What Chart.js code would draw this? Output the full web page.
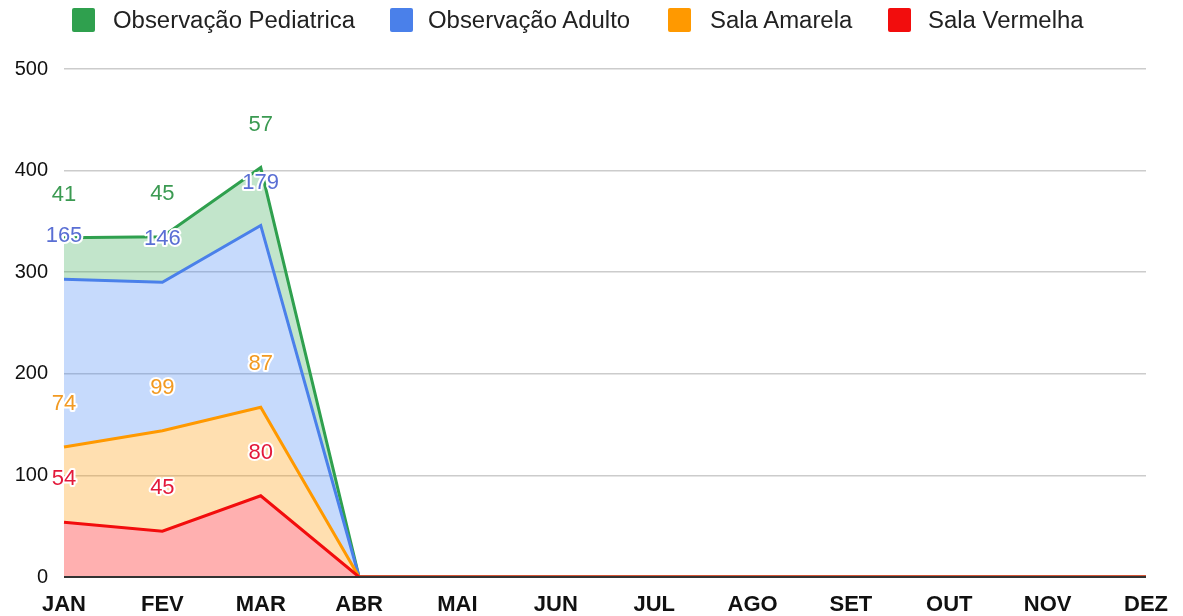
<!DOCTYPE html>
<html>
<head>
<meta charset="utf-8">
<script src="https://cdn.jsdelivr.net/npm/chart.js@4"></script>
<style>
    body { margin: 0; background: #fff; font-family: "Liberation Sans", Arial, sans-serif; }
    #wrap { position: relative; width: 1183px; height: 616px; }
    #legenda { position: absolute; top: 0; left: 0; width: 1183px; height: 40px; }
    .kotak { position: absolute; top: 8px; width: 23px; height: 24px; border-radius: 2px; }
    .teks { position: absolute; top: 6px; font-size: 23px; line-height: 28px; color: #222; white-space: nowrap; transform-origin: 0 50%; transform: scaleX(1.04); }
</style>
</head>
<body>
<div id="wrap">
    <canvas id="grafik"></canvas>
    <div id="legenda"></div>
</div>
<script>
// Data
const meses = ['JAN', 'FEV', 'MAR', 'ABR', 'MAI', 'JUN', 'JUL', 'AGO', 'SET', 'OUT', 'NOV', 'DEZ'];
const salaVermelha = [54, 45, 80, 0, 0, 0, 0, 0, 0, 0, 0, 0];
const salaAmarela = [74, 99, 87, 0, 0, 0, 0, 0, 0, 0, 0, 0];
const obsAdulto = [165, 146, 179, 0, 0, 0, 0, 0, 0, 0, 0, 0];
const obsPediatrica = [41, 45, 57, 0, 0, 0, 0, 0, 0, 0, 0, 0];
const ticksY = [0, 100, 200, 300, 400, 500];

const fonte = '"Liberation Sans", Arial, sans-serif';

function serie(label, values, cor, fundo, corTexto, fill) {
    return {
        label: label,
        data: values,
        borderColor: cor,
        backgroundColor: fundo,
        borderWidth: 3,
        pointRadius: 0,
        tension: 0,
        fill: fill,
        corTexto: corTexto
    };
}

const datasets = [
    serie('Sala Vermelha', salaVermelha, '#f20d0d', 'rgba(255,0,0,0.31)', '#e3193a', 'origin'),
    serie('Sala Amarela', salaAmarela, '#ff9900', 'rgba(255,153,0,0.31)', '#f29a22', '-1'),
    serie('Observação Adulto', obsAdulto, '#4a80ea', 'rgba(66,133,244,0.3)', '#5a6fd4', '-1'),
    serie('Observação Pediatrica', obsPediatrica, '#2fa04e', 'rgba(52,168,83,0.3)', '#3b9a52', '-1')
];

// Legenda (ordem invertida, igual à referência)
const posKotak = [72, 390, 668, 888];
const posTeks = [113, 428, 710, 928];
const legenda = document.getElementById('legenda');
datasets.slice().reverse().forEach(function (ds, i) {
    const kotak = document.createElement('div');
    kotak.className = 'kotak';
    kotak.style.left = posKotak[i] + 'px';
    kotak.style.background = ds.borderColor;
    const teks = document.createElement('span');
    teks.className = 'teks';
    teks.style.left = posTeks[i] + 'px';
    teks.textContent = ds.label;
    legenda.appendChild(kotak);
    legenda.appendChild(teks);
});

// Rótulos de valores + linha do eixo por cima
const rotulos = {
    id: 'rotulos',
    afterDatasetsDraw(chart) {
        const ctx = chart.ctx;
        const area = chart.chartArea;
        ctx.save();
        ctx.strokeStyle = '#333';
        ctx.lineWidth = 2;
        ctx.beginPath();
        ctx.moveTo(area.left, area.bottom);
        ctx.lineTo(area.right, area.bottom);
        ctx.stroke();

        ctx.font = '22px ' + fonte;
        ctx.textAlign = 'center';
        ctx.textBaseline = 'middle';
        ctx.lineJoin = 'round';
        chart.data.datasets.forEach(function (ds, i) {
            const meta = chart.getDatasetMeta(i);
            meta.data.forEach(function (pt, j) {
                const v = ds.data[j];
                if (!v) return;
                const y = pt.y - 43;
                ctx.strokeStyle = '#fff';
                ctx.lineWidth = 4;
                ctx.strokeText(v, pt.x, y);
                ctx.fillStyle = ds.corTexto;
                ctx.fillText(v, pt.x, y);
            });
        });
        ctx.restore();
    }
};

const config = {
    type: 'line',
    data: { labels: meses, datasets: datasets },
    options: {
        responsive: true,
        maintainAspectRatio: false,
        animation: false,
        layout: { padding: { top: 69, right: 37, left: 0, bottom: 0 } },
        plugins: { legend: { display: false }, tooltip: { enabled: false } },
        scales: {
            x: {
                offset: false,
                grid: { display: false },
                border: { display: false },
                ticks: {
                    autoSkip: false, maxRotation: 0, padding: 7,
                    color: '#111', font: { family: fonte, size: 22, weight: 'bold' }
                },
                afterFit(scale) { scale.height = 39; }
            },
            y: {
                stacked: true,
                min: 0, max: 500,
                afterBuildTicks(scale) { scale.ticks = ticksY.map(v => ({ value: v })); },
                grid: { color: '#cccccc', lineWidth: 1.5, drawTicks: false },
                border: { display: false },
                ticks: {
                    padding: 16, color: '#111',
                    font: { family: fonte, size: 20 }
                },
                afterFit(scale) { scale.width = 64; }
            }
        }
    },
    plugins: [rotulos]
};

new Chart(document.getElementById('grafik').getContext('2d'), config);
</script>
</body>
</html>
